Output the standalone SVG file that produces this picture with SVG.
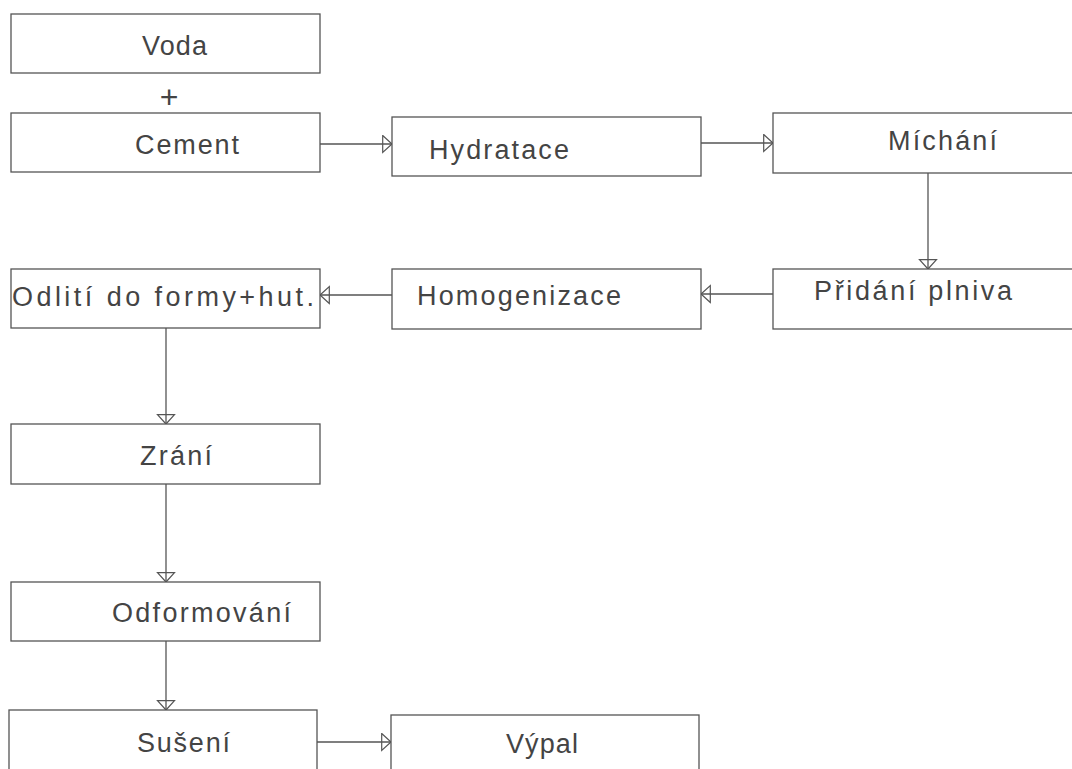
<svg xmlns="http://www.w3.org/2000/svg" width="1072" height="769" viewBox="0 0 1072 769">
<defs>
<style>
.box{fill:#fff;stroke:#555;stroke-width:1.3}
.lbl{font-family:"Liberation Sans",Arial,sans-serif;font-size:27px;fill:#444}
.con{stroke:#555;stroke-width:1.3;fill:none}
</style>
<marker id="ah" markerWidth="12" markerHeight="20" refX="10" refY="9.5" orient="auto" markerUnits="userSpaceOnUse">
<path d="M0.7,1 L10,9.5 L0.7,18 Z" fill="none" stroke="#555" stroke-width="1.2"/>
</marker>
</defs>
<rect width="1072" height="769" fill="#fff"/>
<g id="connectors">
<line class="con" x1="320" y1="144" x2="392" y2="144" marker-end="url(#ah)"/>
<line class="con" x1="701" y1="143" x2="773" y2="143" marker-end="url(#ah)"/>
<line class="con" x1="928" y1="173" x2="928" y2="269" marker-end="url(#ah)"/>
<line class="con" x1="773" y1="294" x2="701" y2="294" marker-end="url(#ah)"/>
<line class="con" x1="392" y1="295" x2="320" y2="295" marker-end="url(#ah)"/>
<line class="con" x1="166" y1="328" x2="166" y2="424" marker-end="url(#ah)"/>
<line class="con" x1="166" y1="484" x2="166" y2="582" marker-end="url(#ah)"/>
<line class="con" x1="166" y1="641" x2="166" y2="710" marker-end="url(#ah)"/>
<line class="con" x1="317" y1="742" x2="391" y2="742" marker-end="url(#ah)"/>
</g>
<g id="voda"><rect class="box" x="11" y="14" width="309" height="59"/><text class="lbl" x="142" y="55" textLength="65" lengthAdjust="spacing">Voda</text></g>
<g id="plus"><text class="lbl" x="169" y="108" text-anchor="middle" style="font-size:32px">+</text></g>
<g id="cement"><rect class="box" x="11" y="113" width="309" height="59"/><text class="lbl" x="135" y="154" textLength="104" lengthAdjust="spacing">Cement</text></g>
<g id="hydratace"><rect class="box" x="392" y="117" width="309" height="59"/><text class="lbl" x="429" y="159" textLength="140" lengthAdjust="spacing">Hydratace</text></g>
<g id="michani"><rect class="box" x="773" y="113" width="310" height="60"/><text class="lbl" x="888" y="150" textLength="109" lengthAdjust="spacing">Míchání</text></g>
<g id="pridani"><rect class="box" x="773" y="269" width="310" height="60"/><text class="lbl" x="814" y="300" textLength="198" lengthAdjust="spacing">Přidání plniva</text></g>
<g id="homogenizace"><rect class="box" x="392" y="269" width="309" height="60"/><text class="lbl" x="417" y="305" textLength="204" lengthAdjust="spacing">Homogenizace</text></g>
<g id="odliti"><rect class="box" x="11" y="269" width="309" height="59"/><text class="lbl" x="12" y="306" textLength="302" lengthAdjust="spacing">Odlití do formy+hut.</text></g>
<g id="zrani"><rect class="box" x="11" y="424" width="309" height="60"/><text class="lbl" x="140" y="465" textLength="72" lengthAdjust="spacing">Zrání</text></g>
<g id="odformovani"><rect class="box" x="11" y="582" width="309" height="59"/><text class="lbl" x="112" y="622" textLength="179" lengthAdjust="spacing">Odformování</text></g>
<g id="suseni"><rect class="box" x="9" y="710" width="308" height="70"/><text class="lbl" x="137" y="752" textLength="93" lengthAdjust="spacing">Sušení</text></g>
<g id="vypal"><rect class="box" x="391" y="715" width="308" height="70"/><text class="lbl" x="506" y="753" textLength="72" lengthAdjust="spacing">Výpal</text></g>
</svg>
